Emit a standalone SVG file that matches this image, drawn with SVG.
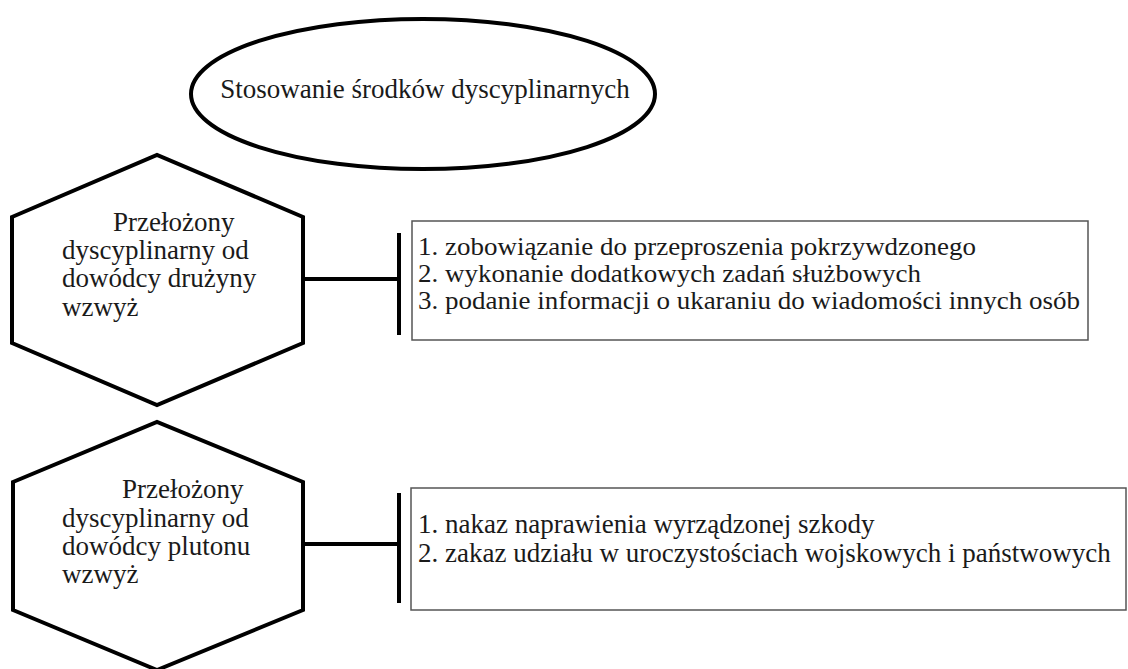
<svg xmlns="http://www.w3.org/2000/svg" width="1128" height="669" viewBox="0 0 1128 669">
<style>
.shape{fill:#fff;stroke:#000;stroke-width:4;stroke-linejoin:miter}
.box{fill:#fff;stroke:#555;stroke-width:1.5}
.conn{stroke:#000;stroke-width:4;fill:none}
text{font-family:"Liberation Serif","Times New Roman",Times,serif;font-size:27px;fill:#1a1a1a}
.bt{font-size:26px}
</style>
<rect width="1128" height="669" fill="#fff"/>
<g id="title">
<ellipse class="shape" cx="423" cy="94" rx="232" ry="75" stroke-width="3.5"/>
<text x="425" y="98" text-anchor="middle">Stosowanie środków dyscyplinarnych</text>
</g>
<g id="hex1">
<polygon class="shape" points="12,217 157,155 303,217 303,343 157,405 12,343"/>
<text x="113" y="231">Przełożony</text>
<text x="62" y="259">dyscyplinarny od</text>
<text x="62" y="287">dowódcy drużyny</text>
<text x="62" y="316">wzwyż</text>
</g>
<g id="hex2">
<polygon class="shape" points="13,482 157,422 303,482 303,610 157,670 13,610"/>
<text x="122" y="498">Przełożony</text>
<text x="62" y="527">dyscyplinarny od</text>
<text x="62" y="555">dowódcy plutonu</text>
<text x="62" y="583">wzwyż</text>
</g>
<g id="box1">
<rect class="box" x="412" y="221" width="676" height="119"/>
<text class="bt" x="418" y="255" textLength="558" lengthAdjust="spacingAndGlyphs">1. zobowiązanie do przeproszenia pokrzywdzonego</text>
<text class="bt" x="418" y="282" textLength="503" lengthAdjust="spacingAndGlyphs">2. wykonanie dodatkowych zadań służbowych</text>
<text class="bt" x="418" y="309" textLength="662" lengthAdjust="spacingAndGlyphs">3. podanie informacji o ukaraniu do wiadomości innych osób</text>
</g>
<g id="box2">
<rect class="box" x="411" y="488" width="715" height="122"/>
<text x="418" y="533">1. nakaz naprawienia wyrządzonej szkody</text>
<text x="418" y="562">2. zakaz udziału w uroczystościach wojskowych i państwowych</text>
</g>
<g id="connectors">
<line class="conn" x1="303" y1="279" x2="399" y2="279"/>
<line class="conn" x1="399" y1="233" x2="399" y2="335"/>
<line class="conn" x1="303" y1="544" x2="399" y2="544"/>
<line class="conn" x1="399" y1="493" x2="399" y2="603"/>
</g>
</svg>
